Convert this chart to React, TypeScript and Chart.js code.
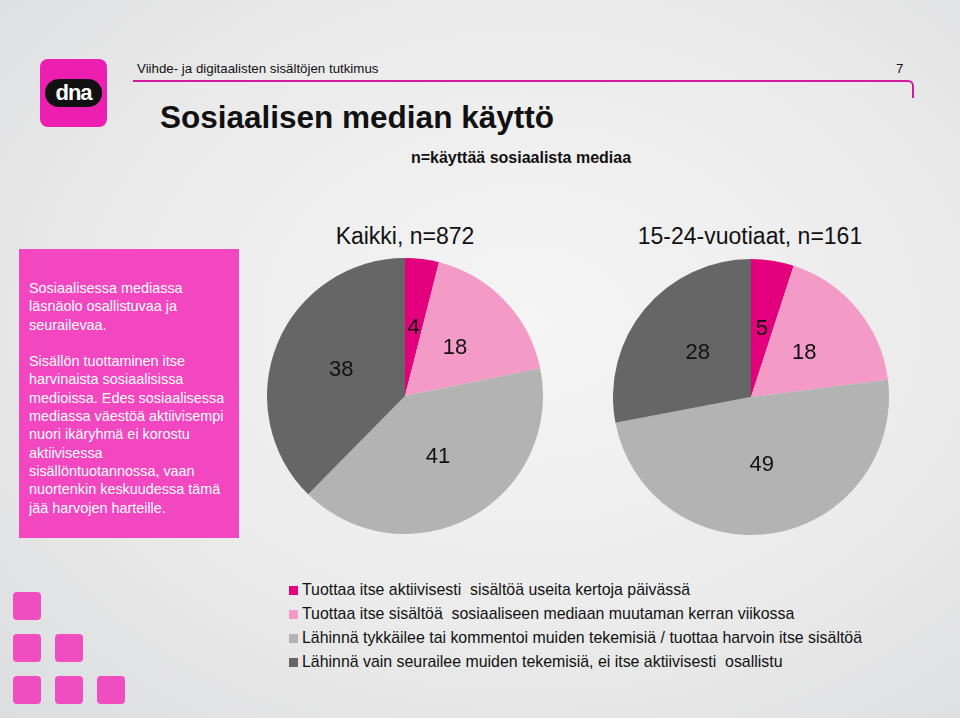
import React, { useEffect, useRef } from "react";
import { Chart, registerables } from "chart.js";

Chart.register(...registerables);

const categories = [
  "Tuottaa itse aktiivisesti  sisältöä useita kertoja päivässä",
  "Tuottaa itse sisältöä  sosiaaliseen mediaan muutaman kerran viikossa",
  "Lähinnä tykkäilee tai kommentoi muiden tekemisiä / tuottaa harvoin itse sisältöä",
  "Lähinnä vain seurailee muiden tekemisiä, ei itse aktiivisesti  osallistu",
];
const colors = ["#E4007C", "#F39AC6", "#B3B3B3", "#666666"];
const allValues = [4, 18, 41, 38];
const youngValues = [5, 18, 49, 28];
const pieTitles = ["Kaikki, n=872", "15-24-vuotiaat, n=161"];

const FONT = "'Liberation Sans', Arial, Helvetica, sans-serif";

const labelPlugin = {
  id: "sliceLabels",
  afterDatasetsDraw(chart: any) {
    const ctx = chart.ctx;
    const meta = chart.getDatasetMeta(0);
    const data = chart.data.datasets[0].data;
    ctx.save();
    ctx.font = `22px ${FONT}`;
    ctx.fillStyle = "#111111";
    ctx.textAlign = "center";
    ctx.textBaseline = "middle";
    meta.data.forEach((arc: any, i: number) => {
      const p = arc.tooltipPosition();
      ctx.fillText(String(data[i]), p.x, p.y);
    });
    ctx.restore();
  },
};

function Pie({ values, left, top, size }: { values: number[]; left: number; top: number; size: number }) {
  const ref = useRef<HTMLCanvasElement>(null);
  useEffect(() => {
    if (!ref.current) return;
    const chart = new Chart(ref.current, {
      type: "pie",
      data: {
        labels: categories,
        datasets: [{ data: values, backgroundColor: colors, borderWidth: 0 }],
      },
      options: {
        animation: false,
        responsive: false,
        maintainAspectRatio: false,
        layout: { padding: 0 },
        plugins: { legend: { display: false }, tooltip: { enabled: false } },
      },
      plugins: [labelPlugin],
    });
    return () => chart.destroy();
  }, [values]);
  return (
    <canvas
      ref={ref}
      width={size}
      height={size}
      style={{ position: "absolute", left, top, width: size, height: size }}
    />
  );
}

const boxText1 = ["Sosiaalisessa mediassa", "läsnäolo osallistuvaa ja", "seurailevaa."];
const boxText2 = [
  "Sisällön tuottaminen itse",
  "harvinaista sosiaalisissa",
  "medioissa. Edes sosiaalisessa",
  "mediassa väestöä aktiivisempi",
  "nuori ikäryhmä ei korostu",
  "aktiivisessa",
  "sisällöntuotannossa, vaan",
  "nuortenkin keskuudessa tämä",
  "jää harvojen harteille.",
];

const squares = [
  [13, 592],
  [13, 634],
  [55, 634],
  [13, 676],
  [55, 676],
  [97, 676],
];

export default function App() {
  return (
    <div
      style={{
        position: "absolute",
        left: 0,
        top: 0,
        width: 960,
        height: 718,
        overflow: "hidden",
        fontFamily: FONT,
        color: "#111",
        background: "radial-gradient(ellipse at 55% 45%, #f5f5f5 0%, #ebebeb 55%, #dcdddf 100%)",
      }}
    >
      {/* logo */}
      <div
        style={{
          position: "absolute",
          left: 40,
          top: 59,
          width: 67,
          height: 68,
          borderRadius: 8,
          background: "#EC1FB1",
        }}
      >
        <div
          style={{
            position: "absolute",
            left: 5,
            top: 20,
            width: 57,
            height: 28,
            borderRadius: 14,
            background: "#111",
            color: "#fff",
            fontWeight: "bold",
            fontSize: 22,
            lineHeight: "28px",
            textAlign: "center",
            letterSpacing: -1,
          }}
        >
          dna
        </div>
      </div>
      {/* header */}
      <div style={{ position: "absolute", left: 137, top: 61, fontSize: 13.3 }}>
        Viihde- ja digitaalisten sisältöjen tutkimus
      </div>
      <div style={{ position: "absolute", left: 896, top: 61, fontSize: 13.3 }}>7</div>
      <div
        style={{
          position: "absolute",
          left: 133,
          top: 80,
          width: 779,
          height: 16,
          borderTop: "2px solid #D4199F",
          borderRight: "2px solid #D4199F",
          borderTopRightRadius: 6,
        }}
      />
      <div
        style={{ position: "absolute", left: 160, top: 99, fontSize: 31.5, fontWeight: "bold" }}
      >
        Sosiaalisen median käyttö
      </div>
      <div
        style={{
          position: "absolute",
          left: 321,
          width: 400,
          top: 149,
          fontSize: 16,
          fontWeight: "bold",
          textAlign: "center",
        }}
      >
        n=käyttää sosiaalista mediaa
      </div>
      {/* pie titles */}
      <div
        style={{ position: "absolute", left: 255, width: 300, top: 223, fontSize: 23, textAlign: "center" }}
      >
        {pieTitles[0]}
      </div>
      <div
        style={{ position: "absolute", left: 600, width: 300, top: 223, fontSize: 23, textAlign: "center" }}
      >
        {pieTitles[1]}
      </div>
      {/* pink box */}
      <div
        style={{
          position: "absolute",
          left: 19,
          top: 249,
          width: 220,
          height: 289,
          background: "#F247C0",
          color: "#fff",
          fontSize: 14.4,
          lineHeight: "18.3px",
          boxSizing: "border-box",
          padding: "30px 0 0 10px",
          whiteSpace: "nowrap",
        }}
      >
        {boxText1.map((t, i) => (
          <div key={"a" + i}>{t}</div>
        ))}
        <div style={{ height: 18.3 }} />
        {boxText2.map((t, i) => (
          <div key={"b" + i}>{t}</div>
        ))}
      </div>
      <Pie values={allValues} left={267} top={258} size={276} />
      <Pie values={youngValues} left={613} top={259} size={276} />
      {/* legend */}
      <div style={{ position: "absolute", left: 289, top: 578, fontSize: 15.9 }}>
        {categories.map((c, i) => (
          <div key={i} style={{ display: "flex", alignItems: "center", height: 24, whiteSpace: "pre" }}>
            <span
              style={{ display: "inline-block", width: 9, height: 9, background: colors[i], marginRight: 4 }}
            />
            {c}
          </div>
        ))}
      </div>
      {/* decorative squares */}
      {squares.map(([x, y], i) => (
        <div
          key={i}
          style={{
            position: "absolute",
            left: x,
            top: y,
            width: 28,
            height: 28,
            borderRadius: 4,
            background: "#F04DC1",
          }}
        />
      ))}
    </div>
  );
}
